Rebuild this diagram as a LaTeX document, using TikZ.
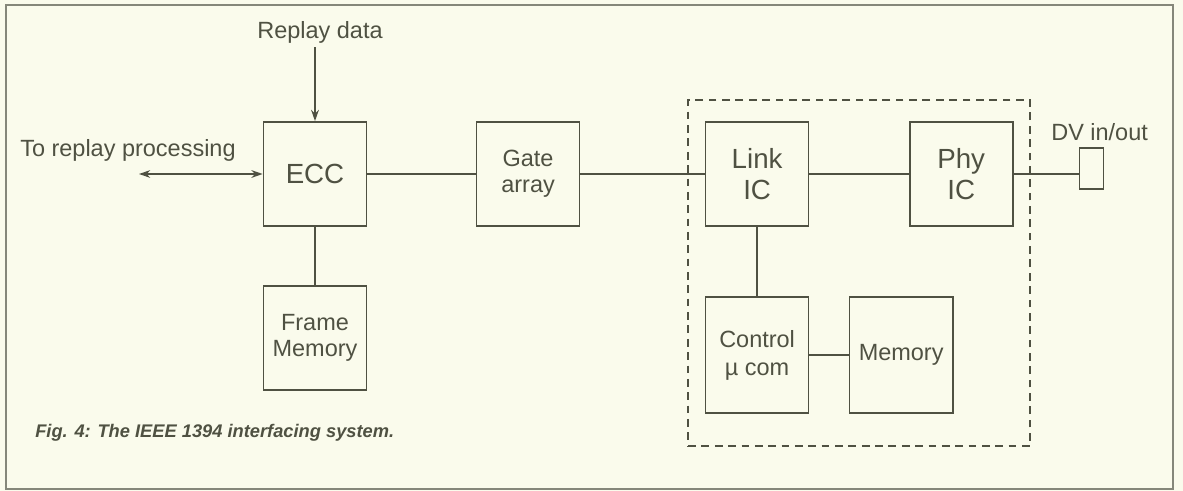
\documentclass[tikz,border=0pt]{standalone}
\usepackage{fontspec}
\setmainfont{Liberation Sans}
\usepackage{tikz}
\usepackage{xcolor}
\usetikzlibrary{shapes.misc, positioning}
\usetikzlibrary{shapes.geometric, arrows, arrows.meta}
\definecolor{paper}{HTML}{FAFBEC}
\definecolor{ink}{HTML}{4F5142}
\definecolor{frame}{HTML}{85877A}
\tikzstyle{block} = [rectangle, minimum width=2.575cm, minimum height=2.6cm, text centered, draw=ink, text=ink, align=center, line width=1.2pt, font=\fontsize{16.7}{18.5}\selectfont]
\tikzstyle{bigblock} = [block, font=\fontsize{19.7}{21.5}\selectfont]
\tikzstyle{tallblock} = [block, minimum height=2.9cm, font=\fontsize{16.7}{20}\selectfont]
\tikzstyle{txt} = [inner sep=0pt, text=ink, font=\fontsize{16.7}{18.5}\selectfont]
\tikzstyle{arrow} = [line width=1.1pt,->,>={Stealth[length=8pt,width=5.5pt]}]
\tikzstyle{link} = [line width=1.2pt, draw=ink]
\tikzstyle{dashbox} = [rectangle, draw=ink, line width=1.1pt, dash pattern=on 5.5pt off 4pt, minimum width=8.55cm, minimum height=8.65cm]

\begin{document}
\begin{tikzpicture}[x=0.025cm, y=-0.025cm, node distance=0cm]
    \fill[paper] (0,0) rectangle (1183,491);
    \useasboundingbox (0,0) rectangle (1183,491);
    \draw[frame, line width=0.8pt] (6,5) rectangle (1173,489);

    \node (ecc) [bigblock] at (315,174) {ECC};
    \node (gate) [block, right of = ecc, xshift=5.325cm]{Gate\\array};
    \node (linkic) [bigblock, right of = gate, xshift=5.725cm]{Link\\IC};
    \node (phy) [bigblock, right of = linkic, xshift=5.1cm]{Phy\\IC};

    \node (frmem) [block, below of = ecc, yshift=-4.1cm]{Frame\\Memory};
    \node (ctrl) [tallblock, below of = linkic, yshift=-4.525cm]{Control\\µ com};
    \node (mem) [tallblock, right of = ctrl, xshift=3.6cm]{Memory};

    \node (grp) [dashbox, right of = linkic, xshift=2.55cm, yshift=-2.475cm]{};

    \node (dv) [rectangle, draw=ink, line width=1.2pt, minimum width=0.6cm, minimum height=1.025cm, right of = phy, xshift=3.26cm, yshift=0.14cm]{};
    \node (dvlbl) [txt, right of = dv, xshift=0.2cm, yshift=0.91cm]{DV in/out};

    \node (replay) [txt, above of = ecc, xshift=0.125cm, yshift=3.55cm]{Replay data};
    \node (proc) [txt, left of = ecc, xshift=-4.675cm, yshift=0.6cm]{To replay processing};
    \coordinate (procend) at (139,174);

    \node (cap) [inner sep=0pt, anchor=west, text=ink, font=\fontsize{13}{15}\selectfont\bfseries\itshape] at (35,433) {Fig. 4: The IEEE 1394 interfacing system.};

    \draw[arrow, ink] ([yshift=-0.1cm]replay.south -| ecc.north)--(ecc.north);
    \draw[arrow, ink, <->] (procend)--(ecc.west);
    \draw [link] (ecc)--(gate);
    \draw [link] (gate)--(linkic);
    \draw [link] (linkic)--(phy);
    \draw [link] (phy.east)--(phy.east -| dv.west);
    \draw [link] (ecc)--(frmem);
    \draw [link] (linkic)--(ctrl);
    \draw [link] (ctrl)--(mem);

\end{tikzpicture}
\end{document}
